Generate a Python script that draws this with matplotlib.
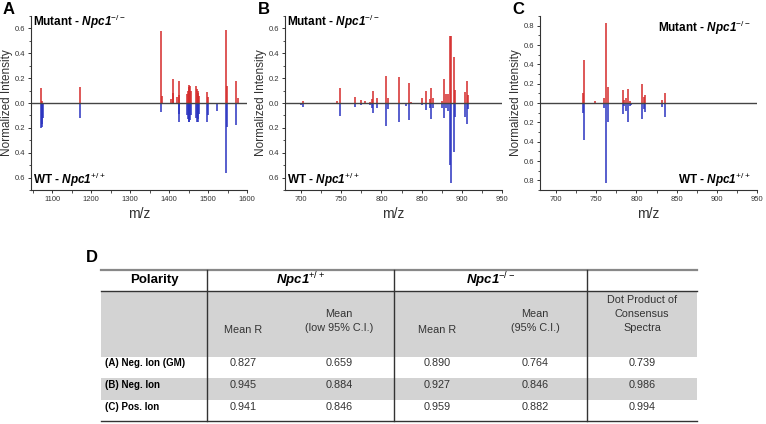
import matplotlib
matplotlib.use("Agg")
import matplotlib.pyplot as plt
from matplotlib.ticker import MultipleLocator, FuncFormatter
from matplotlib.patches import Rectangle

plt.rcParams['font.family'] = ['Liberation Sans', 'DejaVu Sans']
plt.rcParams['mathtext.fontset'] = 'custom'
plt.rcParams['mathtext.rm'] = 'Liberation Sans'
plt.rcParams['mathtext.it'] = 'Liberation Sans:italic'
plt.rcParams['mathtext.bf'] = 'Liberation Sans:bold'
try:
    plt.rcParams['mathtext.bfit'] = 'Liberation Sans:bold:italic'
except KeyError:
    pass

# ---------------- data ----------------
# Panel A (negative ion, GM)
a_mz = [1070, 1072, 1074, 1076, 1172, 1378, 1381, 1404, 1409, 1411, 1420, 1424, 1426,
        1446, 1448, 1450, 1452, 1454, 1456, 1469, 1471, 1473, 1475, 1477, 1497, 1499,
        1523, 1545, 1549, 1573, 1577]
a_mut = [0.12, 0.02, 0.0, 0.0, 0.13, 0.58, 0.06, 0.03, 0.19, 0.08, 0.045, 0.18, 0.065,
         0.07, 0.10, 0.13, 0.145, 0.14, 0.10, 0.14, 0.11, 0.10, 0.08, 0.06, 0.09, 0.05,
         0.0, 0.59, 0.14, 0.175, 0.04]
a_wt = [0.20, 0.19, 0.17, 0.12, 0.124, 0.073, 0.0, 0.0, 0.0, 0.0, 0.0, 0.15, 0.09,
        0.10, 0.13, 0.15, 0.15, 0.14, 0.10, 0.12, 0.15, 0.15, 0.13, 0.09, 0.15, 0.10,
        0.065, 0.565, 0.195, 0.178, 0.0]

# Panel B (negative ion)
b_mz = [700, 702, 745, 748, 767, 775, 779, 786, 788, 790, 795, 806, 808, 822, 830, 834,
        837, 850, 856, 860, 862, 864, 875, 878, 880, 883, 885, 887, 890, 892, 904, 906, 908]
b_mut = [0.0, 0.02, 0.02, 0.12, 0.049, 0.024, 0.016, 0.01, 0.03, 0.10, 0.043, 0.22, 0.04,
         0.21, 0.0, 0.16, 0.01, 0.043, 0.097, 0.03, 0.12, 0.04, 0.02, 0.19, 0.07, 0.075,
         0.54, 0.54, 0.367, 0.105, 0.09, 0.178, 0.065]
b_wt = [0.02, 0.035, 0.0, 0.108, 0.03, 0.02, 0.0, 0.02, 0.04, 0.078, 0.038, 0.186, 0.046,
        0.154, 0.022, 0.14, 0.0, 0.02, 0.06, 0.04, 0.125, 0.04, 0.04, 0.12, 0.04, 0.065,
        0.50, 0.645, 0.397, 0.11, 0.11, 0.17, 0.05]

# Panel C (positive ion)
c_mz = [733, 735, 748, 760, 762, 764, 783, 785, 787, 789, 792, 793, 798, 807, 809, 811,
        813, 815, 817, 832, 835]
c_mut = [0.107, 0.44, 0.02, 0.05, 0.825, 0.166, 0.13, 0.03, 0.05, 0.14, 0.02, 0.0, 0.0,
         0.20, 0.06, 0.08, 0.0, 0.0, 0.0, 0.03, 0.107]
c_wt = [0.10, 0.386, 0.0, 0.05, 0.83, 0.20, 0.117, 0.03, 0.08, 0.197, 0.03, 0.02, 0.01,
        0.17, 0.065, 0.09, 0.01, 0.01, 0.01, 0.04, 0.145]

# Table D
col_groups = ['Polarity', 'Npc1$^{+/+}$', 'Npc1$^{-/-}$']
sub_headers = ['Mean R', 'Mean\n(low 95% C.I.)', 'Mean R', 'Mean\n(95% C.I.)',
               'Dot Product of\nConsensus\nSpectra']
row_labels = ['(A) Neg. Ion (GM)', '(B) Neg. Ion', '(C) Pos. Ion']
wt_mean_r = [0.827, 0.945, 0.941]
wt_mean_low = [0.659, 0.884, 0.846]
mut_mean_r = [0.890, 0.927, 0.959]
mut_mean_ci = [0.764, 0.846, 0.882]
dot_product = [0.739, 0.986, 0.994]

# ---------------- figure ----------------
W, H = 766, 424
fig = plt.figure(figsize=(W / 100, H / 100), dpi=100)

RED = '#d42a2a'
BLUE = '#2a33c0'

def px_axes(l, t, r, b):
    return fig.add_axes([l / W, 1 - b / H, (r - l) / W, (b - t) / H])

mutant_lbl = r'Mutant - $\mathbfit{Npc1}^{-/-}$'
wt_lbl = r'WT - $\mathbfit{Npc1}^{+/+}$'

def spectrum(ax, mz, mut, wt, xlim, ylim, xmaj, xmin, ylab_x, right_labels=False):
    ax.vlines(mz, 0, mut, color=RED, lw=1.1)
    ax.vlines(mz, [-w for w in wt], 0, color=BLUE, lw=1.1)
    ax.axhline(0, color='#444444', lw=1.0)
    ax.set_xlim(*xlim)
    ax.set_ylim(-ylim, ylim)
    for s in ['top', 'right']:
        ax.spines[s].set_visible(False)
    for s in ['left', 'bottom']:
        ax.spines[s].set_color('#333333')
        ax.spines[s].set_linewidth(0.8)
    ax.xaxis.set_major_locator(MultipleLocator(xmaj))
    ax.xaxis.set_minor_locator(MultipleLocator(xmin))
    ax.yaxis.set_major_locator(MultipleLocator(0.2))
    ax.yaxis.set_minor_locator(MultipleLocator(0.1))
    ax.yaxis.set_major_formatter(FuncFormatter(lambda v, p: f'{abs(v):.1f}'))
    ax.tick_params(axis='both', which='major', labelsize=5.5, length=2.5, width=0.7,
                   colors='#333333', pad=1.5)
    ax.tick_params(axis='both', which='minor', length=1.8, width=0.6, colors='#333333')
    ax.set_xlabel('m/z', fontsize=10, color='#333333', labelpad=3)
    fig.text(ylab_x / W, 1 - 103 / H, 'Normalized Intensity', rotation=90,
             ha='center', va='center', fontsize=8.5, color='#333333')
    if right_labels:
        ax.text(0.97, 0.93, mutant_lbl, transform=ax.transAxes, ha='right', va='center',
                fontsize=8.5, fontweight='bold', color='black')
        ax.text(0.97, 0.06, wt_lbl, transform=ax.transAxes, ha='right', va='center',
                fontsize=8.5, fontweight='bold', color='black')
    else:
        ax.text(0.01, 0.965, mutant_lbl, transform=ax.transAxes, ha='left', va='center',
                fontsize=8.5, fontweight='bold', color='black')
        ax.text(0.01, 0.06, wt_lbl, transform=ax.transAxes, ha='left', va='center',
                fontsize=8.5, fontweight='bold', color='black')

axA = px_axes(31, 16, 247, 190)
spectrum(axA, a_mz, a_mut, a_wt, (1045, 1600), 0.7, 100, 50, 7)
axA.set_xticks([1100, 1200, 1300, 1400, 1500, 1600])

axB = px_axes(285, 16, 502, 190)
spectrum(axB, b_mz, b_mut, b_wt, (680, 950), 0.7, 50, 25, 261)

axC = px_axes(540, 16, 757, 190)
spectrum(axC, c_mz, c_mut, c_wt, (680, 950), 0.9, 50, 25, 516, right_labels=True)

# panel letters
for letter, x, y in [('A', 3, 9), ('B', 258, 9), ('C', 512, 9), ('D', 86, 257)]:
    fig.text(x / W, 1 - y / H, letter, fontsize=12, fontweight='bold', ha='left', va='center')

# ---------------- table ----------------
tax = fig.add_axes([0, 0, 1, 1])
tax.set_xlim(0, W)
tax.set_ylim(H, 0)
tax.axis('off')

L, R = 101, 697
vcols = [207, 394, 587]
y_top, y_hdr, y_sub, y_bot = 270, 291, 357, 421
row_edges = [357, 378, 400, 421]
GRAY = '#d3d3d3'

tax.add_patch(Rectangle((L, y_hdr), R - L, y_sub - y_hdr, facecolor=GRAY, edgecolor='none'))
tax.add_patch(Rectangle((L, row_edges[1]), R - L, row_edges[2] - row_edges[1],
                        facecolor=GRAY, edgecolor='none'))
tax.plot([L, R], [y_top, y_top], color='#888888', lw=1.6)
tax.plot([L, R], [y_hdr, y_hdr], color='#333333', lw=1.0)
tax.plot([L, R], [y_bot, y_bot], color='#333333', lw=1.0)
for xv in vcols:
    tax.plot([xv, xv], [y_top, y_bot], color='#333333', lw=1.0)

# group headers
grp_x = [(L + vcols[0]) / 2, (vcols[0] + vcols[1]) / 2, (vcols[1] + vcols[2]) / 2]
tax.text(grp_x[0], 280.5, col_groups[0], ha='center', va='center', fontsize=9.5,
         fontweight='bold')
tax.text(grp_x[1], 280.5, r'$\mathbfit{Npc1}^{+/+}$', ha='center', va='center', fontsize=9.5)
tax.text(grp_x[2], 280.5, r'$\mathbfit{Npc1}^{-/-}$', ha='center', va='center', fontsize=9.5)

sub_x = [243, 339, 437, 535, 642]
sub_y = [330, 321, 330, 321, 314]
for sx, sy, st in zip(sub_x, sub_y, sub_headers):
    tax.text(sx, sy, st, ha='center', va='center', fontsize=7.8, color='#333333',
             linespacing=1.45)

row_y = [363, 385, 407]
cols = [wt_mean_r, wt_mean_low, mut_mean_r, mut_mean_ci, dot_product]
for i, ry in enumerate(row_y):
    tax.text(105, ry, row_labels[i], ha='left', va='center', fontsize=7, fontweight='bold')
    for sx, col in zip(sub_x, cols):
        tax.text(sx, ry, f'{col[i]:.3f}', ha='center', va='center', fontsize=7.8,
                 color='#333333')

fig.savefig('out.png', dpi=100)
